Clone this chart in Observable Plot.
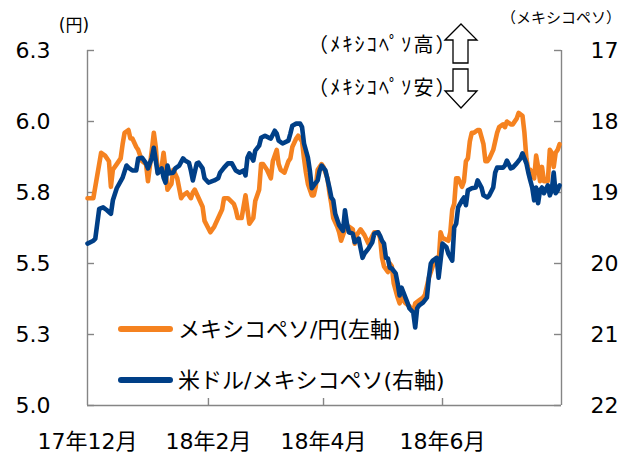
<!DOCTYPE html>
<html><head><meta charset="utf-8">
<script src="https://cdn.jsdelivr.net/npm/d3@7"></script>
<script src="https://cdn.jsdelivr.net/npm/@observablehq/plot@0.6"></script>
<style>body{margin:0;background:#fff}</style>
</head><body><div id="chart"></div>
<script>
const orangeDates = ["2017-12-01","2017-12-04","2017-12-08","2017-12-10","2017-12-12","2017-12-13","2017-12-14","2017-12-16","2017-12-18","2017-12-19","2017-12-20","2017-12-22","2017-12-23","2017-12-24","2017-12-26","2017-12-27","2017-12-29","2017-12-31","2018-01-01","2018-01-03","2018-01-04","2018-01-05","2018-01-06","2018-01-08","2018-01-09","2018-01-10","2018-01-11","2018-01-13","2018-01-14","2018-01-16","2018-01-18","2018-01-19","2018-01-21","2018-01-23","2018-01-24","2018-01-25","2018-01-27","2018-01-29","2018-01-30","2018-02-02","2018-02-04","2018-02-06","2018-02-08","2018-02-09","2018-02-11","2018-02-14","2018-02-15","2018-02-16","2018-02-18","2018-02-20","2018-02-22","2018-02-24","2018-02-25","2018-02-27","2018-02-28","2018-03-01","2018-03-03","2018-03-05","2018-03-06","2018-03-08","2018-03-09","2018-03-10","2018-03-12","2018-03-14","2018-03-15","2018-03-16","2018-03-18","2018-03-19","2018-03-21","2018-03-22","2018-03-23","2018-03-24","2018-03-26","2018-03-27","2018-03-28","2018-03-29","2018-03-31","2018-04-01","2018-04-03","2018-04-04","2018-04-05","2018-04-06","2018-04-08","2018-04-09","2018-04-10","2018-04-12","2018-04-13","2018-04-14","2018-04-16","2018-04-17","2018-04-18","2018-04-20","2018-04-22","2018-04-24","2018-04-27","2018-04-29","2018-04-30","2018-05-01","2018-05-02","2018-05-04","2018-05-05","2018-05-06","2018-05-07","2018-05-09","2018-05-10","2018-05-11","2018-05-13","2018-05-15","2018-05-16","2018-05-17","2018-05-18","2018-05-20","2018-05-22","2018-05-23","2018-05-24","2018-05-25","2018-05-27","2018-05-29","2018-05-30","2018-05-31","2018-06-01","2018-06-04","2018-06-05","2018-06-06","2018-06-07","2018-06-08","2018-06-09","2018-06-11","2018-06-12","2018-06-13","2018-06-14","2018-06-15","2018-06-16","2018-06-17","2018-06-19","2018-06-20","2018-06-22","2018-06-23","2018-06-24","2018-06-25","2018-06-27","2018-06-28","2018-06-29","2018-06-30","2018-07-02","2018-07-03","2018-07-04","2018-07-06","2018-07-07","2018-07-09","2018-07-10","2018-07-12","2018-07-13","2018-07-14","2018-07-15","2018-07-16","2018-07-18","2018-07-19","2018-07-20","2018-07-21","2018-07-22","2018-07-23","2018-07-25","2018-07-26","2018-07-27","2018-07-28","2018-07-29","2018-07-30","2018-07-31"];
const orangeVals = [5.73,5.73,5.89,5.88,5.86,5.77,5.83,5.85,5.87,5.92,5.96,5.97,5.94,5.94,5.91,5.90,5.86,5.85,5.79,5.90,5.96,5.91,5.82,5.84,5.89,5.83,5.76,5.78,5.83,5.80,5.73,5.74,5.75,5.73,5.75,5.76,5.73,5.70,5.65,5.61,5.63,5.66,5.69,5.73,5.73,5.71,5.69,5.66,5.66,5.74,5.64,5.66,5.72,5.76,5.85,5.85,5.83,5.80,5.86,5.90,5.85,5.83,5.82,5.86,5.87,5.91,5.94,5.95,5.93,5.87,5.82,5.78,5.74,5.74,5.77,5.83,5.85,5.84,5.80,5.75,5.71,5.66,5.63,5.61,5.58,5.62,5.63,5.63,5.62,5.57,5.60,5.62,5.60,5.57,5.61,5.61,5.59,5.52,5.49,5.47,5.50,5.49,5.43,5.38,5.36,5.38,5.36,5.35,5.34,5.33,5.36,5.37,5.38,5.39,5.42,5.45,5.49,5.52,5.50,5.61,5.59,5.58,5.61,5.69,5.71,5.80,5.80,5.77,5.79,5.86,5.87,5.93,5.96,5.96,5.97,5.97,5.92,5.86,5.86,5.87,5.90,5.93,5.96,5.98,5.99,5.98,6.00,5.99,5.99,6.01,6.03,6.02,5.96,5.87,5.83,5.83,5.80,5.88,5.84,5.79,5.84,5.79,5.79,5.90,5.89,5.84,5.89,5.90,5.92];
const blueDates = ["2017-12-01","2017-12-04","2017-12-05","2017-12-06","2017-12-07","2017-12-09","2017-12-11","2017-12-13","2017-12-14","2017-12-16","2017-12-19","2017-12-21","2017-12-22","2017-12-24","2017-12-26","2017-12-27","2017-12-29","2017-12-30","2017-12-31","2018-01-01","2018-01-03","2018-01-04","2018-01-05","2018-01-06","2018-01-08","2018-01-09","2018-01-10","2018-01-11","2018-01-12","2018-01-14","2018-01-15","2018-01-17","2018-01-19","2018-01-20","2018-01-22","2018-01-23","2018-01-24","2018-01-26","2018-01-27","2018-01-29","2018-01-30","2018-02-01","2018-02-04","2018-02-06","2018-02-07","2018-02-09","2018-02-11","2018-02-13","2018-02-15","2018-02-17","2018-02-19","2018-02-20","2018-02-21","2018-02-22","2018-02-24","2018-02-25","2018-02-27","2018-02-28","2018-03-02","2018-03-04","2018-03-05","2018-03-07","2018-03-08","2018-03-09","2018-03-11","2018-03-14","2018-03-15","2018-03-16","2018-03-18","2018-03-20","2018-03-21","2018-03-22","2018-03-24","2018-03-25","2018-03-26","2018-03-27","2018-03-29","2018-03-30","2018-03-31","2018-04-02","2018-04-04","2018-04-05","2018-04-06","2018-04-07","2018-04-09","2018-04-11","2018-04-12","2018-04-13","2018-04-14","2018-04-16","2018-04-17","2018-04-19","2018-04-21","2018-04-22","2018-04-24","2018-04-26","2018-04-27","2018-04-29","2018-04-30","2018-05-01","2018-05-02","2018-05-03","2018-05-04","2018-05-05","2018-05-06","2018-05-08","2018-05-09","2018-05-10","2018-05-11","2018-05-13","2018-05-14","2018-05-15","2018-05-17","2018-05-18","2018-05-19","2018-05-20","2018-05-22","2018-05-24","2018-05-25","2018-05-26","2018-05-27","2018-05-29","2018-05-30","2018-06-01","2018-06-03","2018-06-04","2018-06-06","2018-06-07","2018-06-08","2018-06-09","2018-06-11","2018-06-12","2018-06-13","2018-06-14","2018-06-16","2018-06-18","2018-06-19","2018-06-21","2018-06-22","2018-06-24","2018-06-25","2018-06-27","2018-06-28","2018-06-29","2018-07-02","2018-07-03","2018-07-04","2018-07-06","2018-07-07","2018-07-09","2018-07-11","2018-07-12","2018-07-14","2018-07-15","2018-07-16","2018-07-17","2018-07-18","2018-07-19","2018-07-20","2018-07-21","2018-07-22","2018-07-23","2018-07-25","2018-07-26","2018-07-27","2018-07-28","2018-07-29","2018-07-30","2018-07-31"];
const blueVals = [19.72,19.68,19.65,19.44,19.23,19.21,19.25,19.30,19.11,18.94,18.79,18.62,18.65,18.69,18.69,18.52,18.51,18.55,18.59,18.66,18.51,18.37,18.55,18.73,18.66,18.79,18.86,18.62,18.73,18.72,18.66,18.62,18.52,18.55,18.58,18.69,18.83,18.59,18.58,18.66,18.80,18.86,18.83,18.80,18.72,18.65,18.59,18.59,18.69,18.72,18.69,18.76,18.51,18.45,18.55,18.41,18.34,18.23,18.20,18.23,18.24,18.13,18.17,18.27,18.31,18.27,18.17,18.06,18.03,18.03,18.08,18.31,18.51,18.69,18.94,18.90,18.83,18.69,18.62,18.69,18.93,19.07,19.11,19.30,19.46,19.54,19.25,19.44,19.56,19.58,19.70,19.65,19.92,19.86,19.79,19.70,19.58,19.56,19.61,19.68,19.72,19.92,19.93,20.06,20.07,20.14,20.28,20.45,20.34,20.48,20.55,20.63,20.69,20.90,20.63,20.59,20.55,20.48,20.20,20.00,19.96,19.92,20.20,19.72,19.77,19.86,19.96,19.49,19.44,19.21,19.11,19.07,19.18,18.97,18.94,18.93,18.83,18.93,19.04,19.07,19.04,18.93,18.72,18.65,18.65,18.62,18.55,18.66,18.65,18.59,18.52,18.45,18.59,18.72,18.83,18.93,19.11,18.93,19.15,18.97,18.93,19.01,18.90,19.04,18.97,18.72,19.01,18.97,18.90];

const leftTicks = [5, 5.25, 5.5, 5.75, 6, 6.25];
const leftTickLabels = ["5.0","5.3","5.5","5.8","6.0","6.3"];
const rightTicks = [17, 18, 19, 20, 21, 22];
const rightTickLabels = ["17","18","19","20","21","22"];
const xDomain = ["2017-12-01", "2018-08-01"];
const xTicks = ["2017-12-01","2018-02-01","2018-04-01","2018-06-01"];
const xTickLabels = ["17年12月","18年2月","18年4月","18年6月"];
const seriesNames = ["メキシコペソ/円(左軸)", "米ドル/メキシコペソ(右軸)"];
const unitLeft = "(円)";
const unitRight = "（メキシコペソ）";
const noteUp = "（ﾒｷｼｺﾍﾟｿ高）";
const noteDown = "（ﾒｷｼｺﾍﾟｿ安）";

const ORANGE = "#f58220", BLUE = "#003f87", AXIS = "#858585";
const W = 633, H = 457, ML = 87, MR = 72, MT = 50, MB = 52;
const plotW = W - ML - MR, plotH = H - MT - MB;
const FONT = '"DejaVu Sans","Noto Sans CJK JP",sans-serif';
const TICK = 7;

// map right-axis value (17..22, reversed) onto left-axis scale (6.25..5.0)
const r0 = rightTicks[0], r1 = rightTicks[rightTicks.length-1];
const l0 = leftTicks[0], l1 = leftTicks[leftTicks.length-1];
const toLeft = v => l1 - (v - r0) * (l1 - l0) / (r1 - r0);

const orange = orangeDates.map((d, i) => ({date: new Date(d), v: orangeVals[i]}));
const blue = blueDates.map((d, i) => ({date: new Date(d), v: blueVals[i]}));
const xTickDates = xTicks.map(d => new Date(d));

const chart = Plot.plot({
  width: W, height: H, marginLeft: ML, marginRight: MR, marginTop: MT, marginBottom: MB,
  style: {fontFamily: FONT, fontSize: "22px", color: "#000", background: "#fff", overflow: "visible"},
  x: {type: "utc", domain: xDomain.map(d => new Date(d)), label: null},
  y: {domain: [l0, l1], label: null},
  marks: [
    Plot.axisY(leftTicks, {anchor: "left", tickSize: 0, tickPadding: 37, fontSize: 22,
      tickFormat: d => leftTickLabels[leftTicks.indexOf(d)]}),
    Plot.axisY(rightTicks.map(toLeft), {anchor: "right", tickSize: 0, tickPadding: 29, fontSize: 22,
      tickFormat: d => rightTickLabels[rightTicks.map(toLeft).indexOf(d)]}),
    Plot.axisX(xTickDates, {anchor: "bottom", tickSize: 0, tickPadding: 28, fontSize: 22,
      tickFormat: d => xTickLabels[xTickDates.findIndex(t => +t === +d)]}),
    // axis lines
    Plot.ruleX([new Date(xDomain[0])], {stroke: AXIS, strokeWidth: 1.4}),
    Plot.ruleX([new Date(xDomain[1])], {stroke: AXIS, strokeWidth: 1.4}),
    Plot.ruleY([l0], {stroke: AXIS, strokeWidth: 1.4}),
    // inward tick marks
    Plot.ruleY(leftTicks, {stroke: AXIS, strokeWidth: 1.4, insetRight: plotW - TICK}),
    Plot.ruleY(rightTicks.map(toLeft), {stroke: AXIS, strokeWidth: 1.4, insetLeft: plotW - TICK}),
    Plot.ruleX(xTickDates.slice(1), {stroke: AXIS, strokeWidth: 1.4, insetTop: plotH - TICK}),
    // series
    Plot.line(orange, {x: "date", y: "v", stroke: ORANGE, strokeWidth: 4.6, strokeLinejoin: "round", strokeLinecap: "round"}),
    Plot.line(blue, {x: "date", y: d => toLeft(d.v), stroke: BLUE, strokeWidth: 4.6, strokeLinejoin: "round", strokeLinecap: "round"})
  ]
});
document.getElementById("chart").appendChild(chart);

// annotations, legend (layout only)
const svg = d3.select(chart);
const g = svg.append("g").attr("font-family", FONT).attr("fill", "#000").attr("text-anchor", "start");
g.append("text").attr("x", 74).attr("y", 25).attr("text-anchor", "middle").attr("dominant-baseline", "central")
  .attr("font-size", 17).text(unitLeft);
g.append("text").attr("x", 561).attr("y", 18).attr("text-anchor", "middle").attr("dominant-baseline", "central")
  .attr("font-size", 15).text(unitRight);
g.append("text").attr("x", 308).attr("y", 45).attr("text-anchor", "start").attr("dominant-baseline", "central")
  .attr("font-size", 20).attr("letter-spacing", 2.2).text(noteUp);
g.append("text").attr("x", 308).attr("y", 88).attr("text-anchor", "start").attr("dominant-baseline", "central")
  .attr("font-size", 20).attr("letter-spacing", 2.2).text(noteDown);
g.append("path").attr("d", "M445,40 L461,24 L477,40 L468,40 L468,63 L453,63 L453,40 Z")
  .attr("fill", "#fff").attr("stroke", "#000").attr("stroke-width", 1.3).attr("stroke-linejoin", "miter");
g.append("path").attr("d", "M453,69 L468,69 L468,91 L477,91 L461,108 L445,91 L453,91 Z")
  .attr("fill", "#fff").attr("stroke", "#000").attr("stroke-width", 1.3).attr("stroke-linejoin", "miter");
const legend = [{c: ORANGE, y: 329, t: seriesNames[0]}, {c: BLUE, y: 380, t: seriesNames[1]}];
legend.forEach(l => {
  g.append("line").attr("x1", 121).attr("x2", 170).attr("y1", l.y).attr("y2", l.y)
    .attr("stroke", l.c).attr("stroke-width", 6).attr("stroke-linecap", "round");
  g.append("text").attr("x", 178).attr("y", l.y).attr("text-anchor", "start").attr("dominant-baseline", "central")
    .attr("font-size", 22).text(l.t);
});
</script>
</body></html>
